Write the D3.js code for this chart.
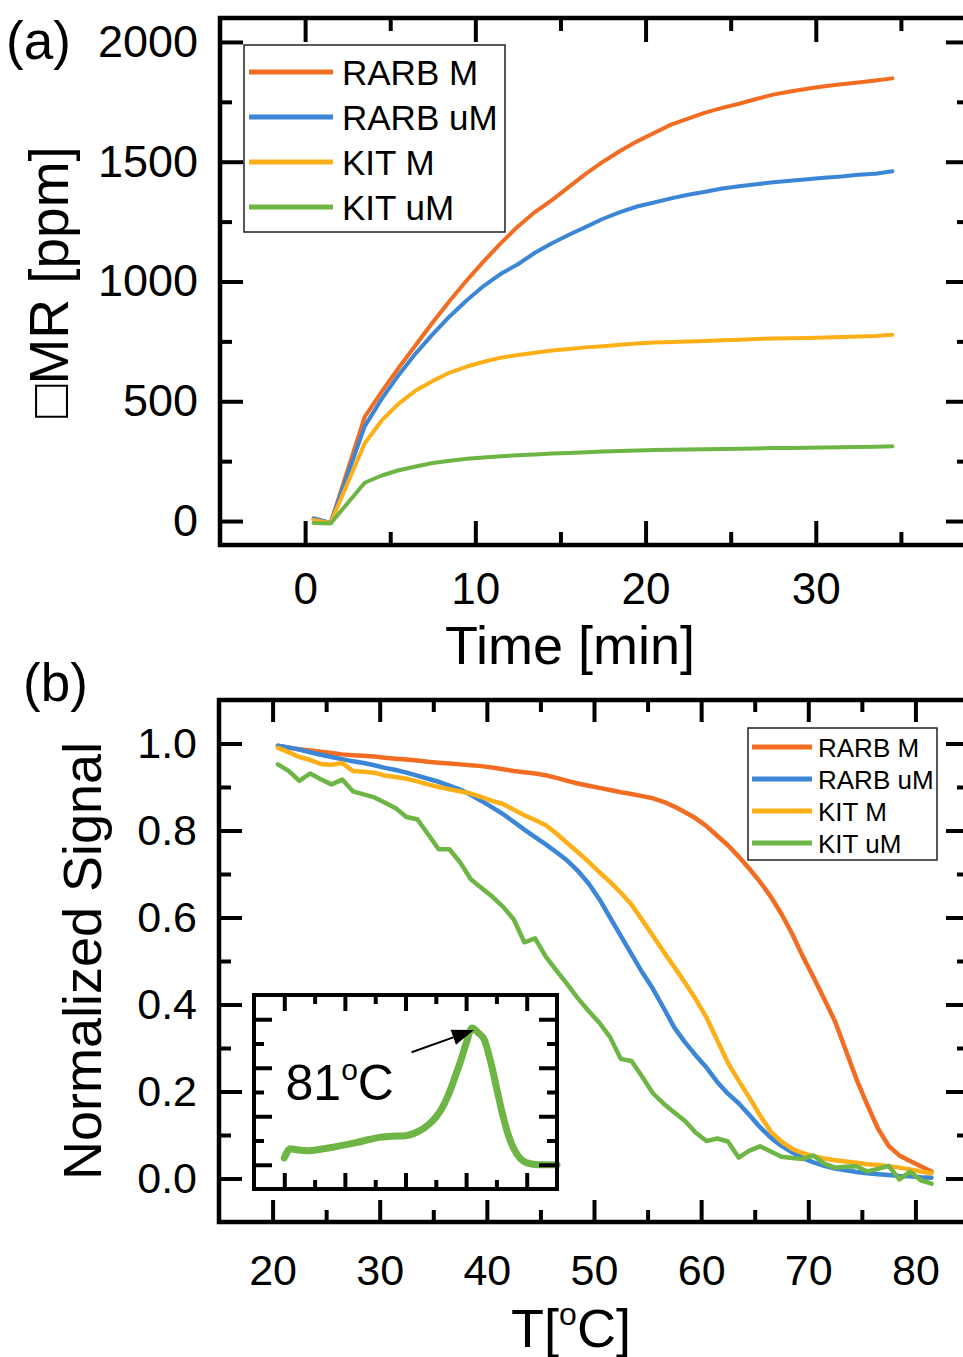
<!DOCTYPE html>
<html>
<head>
<meta charset="utf-8">
<script src="https://cdn.jsdelivr.net/npm/d3@7"></script>
<style>
  html, body { margin: 0; padding: 0; background: #fff; }
  svg { display: block; }
  text { font-family: "Liberation Sans", Arial, Helvetica, sans-serif; fill: #000; }
</style>
</head>
<body>
<svg id="chart" width="963" height="1357"></svg>
<script>
// ---------------- DATA ----------------
const seriesNames = ["RARB M", "RARB uM", "KIT M", "KIT uM"];
const seriesColors = ["#F26C22", "#3B86D6", "#FDAF17", "#6DB544"];

// Panel (a): time [min]
const timeA = [0.5, 1.5, 3.5, 4.5, 5.5, 6.5, 7.5, 8.5, 9.5, 10.5, 11.5, 12.5, 13.5, 14.5, 15.5, 16.5, 17.5,
  18.5, 19.5, 20.5, 21.5, 22.5, 23.5, 24.5, 25.5, 26.5, 27.5, 28.5, 29.5, 30.5, 31.5, 32.5, 33.5, 34.5];
const rarbM_a = [10, -8, 435, 540, 640, 735, 830, 920, 1005, 1085, 1160, 1230, 1290, 1340, 1395, 1450, 1500,
  1545, 1585, 1620, 1655, 1680, 1705, 1725, 1742, 1762, 1780, 1793, 1805, 1815, 1823, 1831, 1839, 1848];
const rarbUM_a = [12, -8, 395, 510, 610, 700, 780, 855, 922, 982, 1032, 1072, 1120, 1160, 1195, 1228, 1262,
  1290, 1313, 1330, 1347, 1362, 1375, 1388, 1398, 1406, 1414, 1421, 1427, 1433, 1438, 1446, 1450, 1460];
const kitM_a = [5, -8, 325, 420, 490, 545, 585, 620, 645, 665, 682, 693, 703, 712, 718, 725, 730,
  736, 741, 745, 747, 750, 752, 755, 757, 760, 762, 763, 764, 766, 768, 770, 772, 778];
const kitUM_a = [-8, -10, 160, 190, 212, 228, 242, 252, 260, 265, 270, 275, 278, 282, 284, 287, 290,
  292, 295, 297, 298, 299, 300, 301, 302, 303, 305, 305, 306, 307, 308, 309, 310, 312];

const xTicksA = [0, 10, 20, 30];
const xMinorA = [5, 15, 25, 35];
const yTicksA = [0, 500, 1000, 1500, 2000];
const yMinorA = [250, 750, 1250, 1750];

// Panel (b): temperature [°C]
const tempB = [20.5, 21.5, 22.5, 23.5, 24.5, 25.5, 26.5, 27.5, 28.5, 29.5, 30.5, 31.5, 32.5, 33.5, 34.5,
  35.5, 36.5, 37.5, 38.5, 39.5, 40.5, 41.5, 42.5, 43.5, 44.5, 45.5, 46.5, 47.5, 48.5, 49.5, 50.5,
  51.5, 52.5, 53.5, 54.5, 55.5, 56.5, 57.5, 58.5, 59.5, 60.5, 61.5, 62.5, 63.5, 64.5, 65.5, 66.5,
  67.5, 68.5, 69.5, 70.5, 71.5, 72.5, 73.5, 74.5, 75.5, 76.5, 77.5, 78.5, 79.5, 80.5, 81.5];
const rarbM_b = [0.995, 0.990, 0.987, 0.984, 0.981, 0.978, 0.975, 0.973, 0.972, 0.970, 0.967, 0.965, 0.963, 0.961, 0.958,
  0.956, 0.954, 0.952, 0.950, 0.948, 0.945, 0.941, 0.937, 0.934, 0.931, 0.927, 0.921, 0.914, 0.908, 0.903, 0.898,
  0.893, 0.888, 0.884, 0.879, 0.874, 0.866, 0.855, 0.842, 0.828, 0.810, 0.788, 0.766, 0.740, 0.712, 0.682, 0.648,
  0.608, 0.562, 0.510, 0.462, 0.412, 0.361, 0.295, 0.228, 0.170, 0.115, 0.075, 0.053, 0.040, 0.028, 0.016];
const rarbUM_b = [0.995, 0.991, 0.986, 0.980, 0.974, 0.969, 0.964, 0.959, 0.955, 0.950, 0.944, 0.939, 0.933, 0.926, 0.919,
  0.912, 0.903, 0.894, 0.882, 0.868, 0.853, 0.838, 0.820, 0.802, 0.785, 0.768, 0.750, 0.731, 0.707, 0.678, 0.642,
  0.600, 0.558, 0.516, 0.474, 0.436, 0.392, 0.347, 0.313, 0.283, 0.255, 0.222, 0.195, 0.173, 0.146, 0.118, 0.094,
  0.075, 0.060, 0.047, 0.037, 0.029, 0.023, 0.019, 0.015, 0.012, 0.010, 0.008, 0.006, 0.005, 0.003, 0.002];
const kitM_b = [0.990, 0.980, 0.969, 0.962, 0.953, 0.951, 0.955, 0.937, 0.935, 0.933, 0.926, 0.923, 0.919, 0.913, 0.906,
  0.900, 0.895, 0.890, 0.885, 0.877, 0.868, 0.861, 0.848, 0.835, 0.824, 0.812, 0.793, 0.771, 0.750, 0.728, 0.704,
  0.682, 0.657, 0.630, 0.594, 0.558, 0.521, 0.486, 0.450, 0.412, 0.370, 0.318, 0.266, 0.225, 0.186, 0.145, 0.108,
  0.085, 0.068, 0.058, 0.051, 0.046, 0.042, 0.039, 0.036, 0.033, 0.031, 0.028, 0.025, 0.021, 0.016, 0.012];
const kitUM_b = [0.952, 0.937, 0.914, 0.931, 0.918, 0.906, 0.917, 0.890, 0.883, 0.876, 0.864, 0.851, 0.831, 0.826, 0.792,
  0.757, 0.757, 0.727, 0.688, 0.668, 0.648, 0.625, 0.596, 0.543, 0.552, 0.510, 0.478, 0.447, 0.414, 0.385, 0.358,
  0.325, 0.275, 0.270, 0.234, 0.196, 0.172, 0.152, 0.132, 0.105, 0.086, 0.092, 0.085, 0.048, 0.064, 0.074, 0.062,
  0.050, 0.047, 0.045, 0.053, 0.034, 0.025, 0.027, 0.028, 0.016, 0.022, 0.029, -0.002, 0.016, -0.004, -0.012];

const xTicksB = [20, 30, 40, 50, 60, 70, 80];
const xMinorB = [25, 35, 45, 55, 65, 75];
const yTicksB = [0.0, 0.2, 0.4, 0.6, 0.8, 1.0];
const yMinorB = [0.1, 0.3, 0.5, 0.7, 0.9];

// Inset (derivative of KIT uM)
const tempInset = [50, 51, 52, 54, 56, 58, 60, 62, 64, 66, 68, 70, 72, 73, 74, 75, 76, 77, 78, 79, 80, 81,
  82, 83, 84, 85, 86, 87, 88, 89, 90, 92, 95];
const derivInset = [0.14, 0.33, 0.31, 0.29, 0.32, 0.36, 0.41, 0.46, 0.52, 0.57, 0.59, 0.60, 0.68, 0.75, 0.85, 0.98,
  1.16, 1.42, 1.75, 2.10, 2.50, 2.82, 2.72, 2.58, 2.15, 1.60, 1.05, 0.60, 0.30, 0.12, 0.04, 0.0, 0.0];
const xTicksInset = [50, 60, 70, 80, 90];
const xMinorInset = [55, 65, 75, 85];
const yTicksInset = [0, 1, 2, 3];
const yMinorInset = [0.5, 1.5, 2.5];
const peakLabel = "81";
const arrowFrom = [71, 2.32];
const arrowTo = [81.3, 2.78];
const peakLabelPos = [50.2, 1.33];

// ---------------- DRAWING ----------------
const svg = d3.select("#chart");
const FONT = '"Liberation Sans", Arial, Helvetica, sans-serif';

function drawAxis(orient, scale, pos, major, minor, majorLen, minorLen, fmt, pad, fs, sw) {
  const make = orient === "left" ? d3.axisLeft : orient === "right" ? d3.axisRight :
               orient === "top" ? d3.axisTop : d3.axisBottom;
  const tr = (orient === "left" || orient === "right") ? `translate(${pos},0)` : `translate(0,${pos})`;
  const gMaj = svg.append("g").attr("transform", tr)
    .call(make(scale).tickValues(major).tickSize(-majorLen).tickSizeOuter(0)
      .tickPadding(pad).tickFormat(fmt || (() => "")));
  const gMin = svg.append("g").attr("transform", tr)
    .call(make(scale).tickValues(minor).tickSize(-minorLen).tickSizeOuter(0).tickFormat(() => ""));
  [gMaj, gMin].forEach(g => {
    g.select(".domain").remove();
    g.selectAll("line").attr("stroke", "#000").attr("stroke-width", sw);
    g.selectAll("text").attr("font-family", FONT).attr("font-size", fs).attr("fill", "#000");
  });
  return gMaj;
}

// ===== Panel (a) =====
const aX = d3.scaleLinear().domain([-5, 39]).range([220, 969]);
const aY = d3.scaleLinear().domain([-100, 2100]).range([545, 18]);

const seriesA = [rarbM_a, rarbUM_a, kitM_a, kitUM_a];
const lineA = d3.line().x(d => aX(d[0])).y(d => aY(d[1]));
seriesA.forEach((vals, i) => {
  svg.append("path")
    .attr("d", lineA(timeA.map((t, j) => [t, vals[j]])))
    .attr("fill", "none").attr("stroke", seriesColors[i]).attr("stroke-width", 4)
    .attr("stroke-linejoin", "round").attr("stroke-linecap", "round");
});

drawAxis("left", aY, aX.range()[0], yTicksA, yMinorA, 23, 12, d3.format("d"), 22, 45, 4);
drawAxis("right", aY, aX.range()[1], yTicksA, yMinorA, 23, 12, null, 0, 45, 4);
drawAxis("bottom", aX, aY.range()[0], xTicksA, xMinorA, 24, 13, d3.format("d"), 28, 44, 4);
drawAxis("top", aX, aY.range()[1], xTicksA, xMinorA, 24, 13, null, 0, 44, 4);

svg.append("rect")
  .attr("x", aX.range()[0]).attr("y", aY.range()[1])
  .attr("width", aX.range()[1] - aX.range()[0]).attr("height", aY.range()[0] - aY.range()[1])
  .attr("fill", "none").attr("stroke", "#000").attr("stroke-width", 4.5);

// legend (a)
const legA = svg.append("g");
legA.append("rect").attr("x", 244).attr("y", 45).attr("width", 261).attr("height", 187)
  .attr("fill", "#fff").attr("stroke", "#222").attr("stroke-width", 1.5);
seriesNames.forEach((n, i) => {
  const y = 72 + i * 45;
  legA.append("line").attr("x1", 249).attr("x2", 333).attr("y1", y).attr("y2", y)
    .attr("stroke", seriesColors[i]).attr("stroke-width", 5);
  legA.append("text").attr("x", 342).attr("y", y + 12.5).attr("font-size", 35).text(n);
});

svg.append("text").attr("x", 6).attr("y", 59).attr("font-size", 53).text("(a)");
svg.append("text").attr("x", 570).attr("y", 664).attr("text-anchor", "middle")
  .attr("font-size", 54).text("Time [min]");
svg.append("text").attr("transform", "translate(68,282) rotate(-90)").attr("text-anchor", "middle")
  .attr("font-size", 55).text("\u25A1MR [ppm]");

// ===== Panel (b) =====
const bX = d3.scaleLinear().domain([15, 85]).range([219, 969]);
const bY = d3.scaleLinear().domain([-0.1, 1.1]).range([1222, 700]);

const seriesB = [rarbM_b, rarbUM_b, kitM_b, kitUM_b];
const lineB = d3.line().x(d => bX(d[0])).y(d => bY(d[1]));
seriesB.forEach((vals, i) => {
  svg.append("path")
    .attr("d", lineB(tempB.map((t, j) => [t, vals[j]])))
    .attr("fill", "none").attr("stroke", seriesColors[i]).attr("stroke-width", 4.5)
    .attr("stroke-linejoin", "round").attr("stroke-linecap", "round");
});

drawAxis("left", bY, bX.range()[0], yTicksB, yMinorB, 23, 12, d3.format(".1f"), 22, 43, 4);
drawAxis("right", bY, bX.range()[1], yTicksB, yMinorB, 23, 12, null, 0, 43, 4);
drawAxis("bottom", bX, bY.range()[0], xTicksB, xMinorB, 22, 12, d3.format("d"), 32, 43, 4);
drawAxis("top", bX, bY.range()[1], xTicksB, xMinorB, 22, 12, null, 0, 43, 4);

svg.append("rect")
  .attr("x", bX.range()[0]).attr("y", bY.range()[1])
  .attr("width", bX.range()[1] - bX.range()[0]).attr("height", bY.range()[0] - bY.range()[1])
  .attr("fill", "none").attr("stroke", "#000").attr("stroke-width", 4.5);

// legend (b)
const legB = svg.append("g");
legB.append("rect").attr("x", 748).attr("y", 728).attr("width", 189).attr("height", 132)
  .attr("fill", "#fff").attr("stroke", "#222").attr("stroke-width", 1.5);
seriesNames.forEach((n, i) => {
  const y = 747 + i * 32;
  legB.append("line").attr("x1", 752).attr("x2", 812).attr("y1", y).attr("y2", y)
    .attr("stroke", seriesColors[i]).attr("stroke-width", 5);
  legB.append("text").attr("x", 818).attr("y", y + 9.5).attr("font-size", 26).text(n);
});

svg.append("text").attr("x", 23).attr("y", 701).attr("font-size", 53).text("(b)");
const tLab = svg.append("text").attr("x", 571).attr("y", 1347).attr("text-anchor", "middle").attr("font-size", 54);
tLab.append("tspan").text("T[");
tLab.append("tspan").attr("font-size", 32).attr("dy", -22).text("o");
tLab.append("tspan").attr("dy", 22).text("C]");
svg.append("text").attr("transform", "translate(101,961) rotate(-90)").attr("text-anchor", "middle")
  .attr("font-size", 54).text("Normalized Signal");

// ===== Inset =====
const iX = d3.scaleLinear().domain([45, 95]).range([254, 557]);
const iY = d3.scaleLinear().domain([-0.5, 3.5]).range([1189, 995]);

svg.append("rect").attr("x", 254).attr("y", 995).attr("width", 303).attr("height", 194)
  .attr("fill", "#fff").attr("stroke", "none");

svg.append("path")
  .attr("d", d3.line().x(d => iX(d[0])).y(d => iY(d[1])).curve(d3.curveMonotoneX)(tempInset.map((t, j) => [t, derivInset[j]])))
  .attr("fill", "none").attr("stroke", seriesColors[3]).attr("stroke-width", 7)
  .attr("stroke-linejoin", "round").attr("stroke-linecap", "round");

drawAxis("left", iY, iX.range()[0], yTicksInset, yMinorInset, 18, 10, null, 0, 10, 4);
drawAxis("right", iY, iX.range()[1], yTicksInset, yMinorInset, 18, 10, null, 0, 10, 4);
drawAxis("bottom", iX, iY.range()[0], xTicksInset, xMinorInset, 16, 9, null, 0, 10, 4);
drawAxis("top", iX, iY.range()[1], xTicksInset, xMinorInset, 16, 9, null, 0, 10, 4);

svg.append("rect").attr("x", iX.range()[0]).attr("y", iY.range()[1])
  .attr("width", iX.range()[1] - iX.range()[0]).attr("height", iY.range()[0] - iY.range()[1])
  .attr("fill", "none").attr("stroke", "#000").attr("stroke-width", 4);

// arrow annotation
const ax1 = iX(arrowFrom[0]), ay1 = iY(arrowFrom[1]);
const ax2 = iX(arrowTo[0]), ay2 = iY(arrowTo[1]);
const ang = Math.atan2(ay2 - ay1, ax2 - ax1);
const headLen = 22, headW = 8;
const bx = ax2 - headLen * Math.cos(ang), by = ay2 - headLen * Math.sin(ang);
svg.append("line").attr("x1", ax1).attr("y1", ay1).attr("x2", bx).attr("y2", by)
  .attr("stroke", "#000").attr("stroke-width", 2);
svg.append("polygon")
  .attr("points", [
    [ax2, ay2],
    [bx + headW * Math.sin(ang), by - headW * Math.cos(ang)],
    [bx - headW * Math.sin(ang), by + headW * Math.cos(ang)]
  ].map(p => p.join(",")).join(" "))
  .attr("fill", "#000");

const pk = svg.append("text").attr("x", iX(peakLabelPos[0])).attr("y", iY(peakLabelPos[1])).attr("font-size", 50);
pk.append("tspan").text(peakLabel);
pk.append("tspan").attr("font-size", 30).attr("dy", -20).text("o");
pk.append("tspan").attr("dy", 20).text("C");
</script>
</body>
</html>
